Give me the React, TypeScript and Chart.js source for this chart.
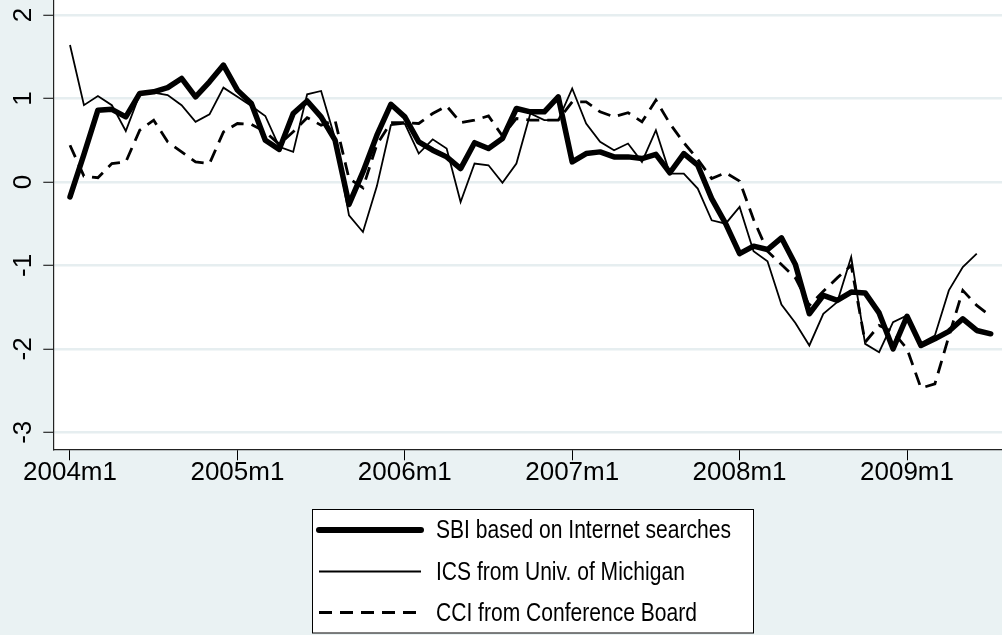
import React, { useEffect, useRef } from "react";
import { Chart, registerables } from "chart.js";

Chart.register(...registerables);

// Months are counted from 2004m1 (index 0) to 2009m7 (index 66)
const seriesNames = [
  "SBI based on Internet searches",
  "ICS from Univ. of Michigan",
  "CCI from Conference Board",
];

const sbi = [
  -0.18, 0.33, 0.86, 0.87, 0.78, 1.06, 1.08, 1.13, 1.24, 1.02, 1.2, 1.4,
  1.1, 0.94, 0.5, 0.39, 0.82, 0.97, 0.78, 0.5, -0.27, 0.12, 0.56, 0.93,
  0.78, 0.48, 0.38, 0.3, 0.16, 0.47, 0.4, 0.52, 0.88, 0.84, 0.84, 1.02,
  0.24, 0.34, 0.36, 0.3, 0.3, 0.28, 0.33, 0.11, 0.34, 0.2, -0.2, -0.5,
  -0.86, -0.77, -0.81, -0.67, -0.99, -1.58, -1.36, -1.42, -1.32, -1.33, -1.57, -2.0,
  -1.61, -1.96, -1.88, -1.79, -1.64, -1.78, -1.82,
];

const ics = [
  1.64, 0.92, 1.03, 0.92, 0.61, 1.05, 1.07, 1.04, 0.92, 0.72, 0.81, 1.13,
  1.02, 0.91, 0.79, 0.42, 0.36, 1.05, 1.09, 0.52, -0.4, -0.6, -0.05, 0.68,
  0.7, 0.34, 0.51, 0.4, -0.24, 0.22, 0.2, -0.01, 0.22, 0.82, 0.74, 0.74,
  1.12, 0.7, 0.48, 0.38, 0.46, 0.24, 0.62, 0.1, 0.1, -0.08, -0.46, -0.5,
  -0.3, -0.83, -0.95, -1.47, -1.69, -1.96, -1.58, -1.44, -0.9, -1.94, -2.04, -1.68,
  -1.6, -1.93, -1.84, -1.3, -1.02, -0.86,
];

const cci = [
  0.44, 0.07, 0.05, 0.22, 0.24, 0.62, 0.74, 0.48, 0.36, 0.24, 0.22, 0.6,
  0.7, 0.69, 0.6, 0.45, 0.6, 0.77, 0.68, 0.74, 0.04, -0.07, 0.45, 0.71,
  0.71, 0.7, 0.82, 0.91, 0.71, 0.74, 0.79, 0.55, 0.76, 0.74, 0.74, 0.74,
  0.96, 0.96, 0.84, 0.78, 0.83, 0.72, 0.98, 0.7, 0.47, 0.27, 0.04, 0.11,
  0.01, -0.45, -0.83, -0.99, -1.15, -1.48, -1.31, -1.15, -1.0, -1.92, -1.72, -1.8,
  -2.0, -2.47, -2.42, -1.85, -1.3, -1.48, -1.61,
];

const xTickMonths = [0, 12, 24, 36, 48, 60];
const xTickLabels = ["2004m1", "2005m1", "2006m1", "2007m1", "2008m1", "2009m1"];
const yTickValues = [-3, -2, -1, 0, 1, 2];

const BG = "#EAF2F3";
const W = 1002;
const H = 635;

const bgPlugin = {
  id: "stataBg",
  beforeDraw(chart: any) {
    const { ctx, chartArea } = chart;
    ctx.save();
    ctx.fillStyle = BG;
    ctx.fillRect(0, 0, chart.width, chart.height);
    ctx.fillStyle = "#ffffff";
    ctx.fillRect(
      chartArea.left,
      chartArea.top,
      chartArea.right - chartArea.left,
      chartArea.bottom - chartArea.top
    );
    ctx.restore();
  },
};

const legendPlugin = {
  id: "stataLegend",
  afterDraw(chart: any) {
    const ctx = chart.ctx as CanvasRenderingContext2D;
    const box = { x: 312.5, y: 509.5, w: 441, h: 123.5 };
    ctx.save();
    ctx.fillStyle = "#ffffff";
    ctx.fillRect(box.x, box.y, box.w, box.h);
    ctx.strokeStyle = "#000000";
    ctx.lineWidth = 1;
    ctx.strokeRect(box.x, box.y, box.w, box.h);

    const rows = [530, 571.5, 612.5];
    const lx0 = 319;
    const lx1 = 421;
    const tx = 436;
    ctx.font = '26px "Liberation Sans", Arial, sans-serif';
    const refW = ctx.measureText(seriesNames[0]).width;
    const sx = 295 / refW;
    chart.data.datasets.forEach((ds: any, i: number) => {
      const y = rows[i];
      ctx.beginPath();
      ctx.strokeStyle = "#000000";
      ctx.lineWidth = ds.legendWidth;
      ctx.lineCap = i === 0 ? "round" : "butt";
      ctx.setLineDash(ds.borderDash || []);
      ctx.moveTo(lx0, y);
      ctx.lineTo(lx1, y);
      ctx.stroke();
      ctx.setLineDash([]);
      ctx.save();
      ctx.translate(tx, y);
      ctx.scale(sx, 1);
      ctx.fillStyle = "#000000";
      ctx.textBaseline = "middle";
      ctx.textAlign = "left";
      ctx.fillText(ds.label, 0, 1);
      ctx.restore();
    });
    ctx.restore();
  },
};

const zeroPad = (s: any) => {
  s.paddingTop = 0;
  s.paddingBottom = 0;
  s.paddingLeft = 0;
  s.paddingRight = 0;
};

export default function App() {
  const ref = useRef<HTMLCanvasElement | null>(null);

  useEffect(() => {
    document.body.style.margin = "0";
    const canvas = ref.current;
    if (!canvas) return;
    const toPts = (arr: number[]) => arr.map((v, i) => ({ x: i, y: v }));
    const chart = new Chart(canvas, {
      type: "line",
      data: {
        datasets: [
          {
            label: seriesNames[0],
            data: toPts(sbi),
            borderColor: "#000000",
            borderWidth: 5.5,
            borderJoinStyle: "round",
            borderCapStyle: "round",
            pointRadius: 0,
            tension: 0,
            order: 2,
            legendWidth: 6,
          } as any,
          {
            label: seriesNames[1],
            data: toPts(ics),
            borderColor: "#000000",
            borderWidth: 1.8,
            borderJoinStyle: "miter",
            pointRadius: 0,
            tension: 0,
            order: 1,
            legendWidth: 2,
          } as any,
          {
            label: seriesNames[2],
            data: toPts(cci),
            borderColor: "#000000",
            borderWidth: 2.8,
            borderDash: [13, 8],
            pointRadius: 0,
            tension: 0,
            order: 0,
            legendWidth: 3,
          } as any,
        ],
      },
      options: {
        responsive: false,
        animation: false,
        devicePixelRatio: 1,
        layout: { padding: 0 },
        plugins: {
          legend: { display: false },
          tooltip: { enabled: false },
        },
        scales: {
          x: {
            type: "linear",
            min: -1.197,
            max: 66.81,
            afterFit: (s: any) => {
              s.height = H - 449.3;
              zeroPad(s);
            },
            afterBuildTicks: (s: any) => {
              s.ticks = xTickMonths.map((v) => ({ value: v }));
            },
            ticks: {
              autoSkip: false,
              maxRotation: 0,
              minRotation: 0,
              padding: -3,
              color: "#000000",
              font: { family: '"Liberation Sans", Arial, sans-serif', size: 26 },
              callback: (v: any) => {
                const k = xTickMonths.indexOf(Number(v));
                return k >= 0 ? xTickLabels[k] : "";
              },
            },
            grid: {
              drawOnChartArea: false,
              drawTicks: true,
              tickLength: 11,
              tickColor: "#000000",
              tickWidth: 1,
            },
            border: { display: true, color: "#222222", width: 1.2 },
          },
          y: {
            type: "linear",
            min: -3.204,
            max: 2.18,
            afterFit: (s: any) => {
              s.width = 53.3;
              zeroPad(s);
            },
            afterBuildTicks: (s: any) => {
              s.ticks = yTickValues.map((v) => ({ value: v }));
            },
            ticks: {
              autoSkip: false,
              minRotation: 90,
              maxRotation: 90,
              crossAlign: "center",
              padding: 8.4,
              color: "#000000",
              font: { family: '"Liberation Sans", Arial, sans-serif', size: 26 },
              callback: (v: any) => String(v),
            },
            grid: {
              drawOnChartArea: true,
              color: "#E6EEF0",
              lineWidth: 2.5,
              drawTicks: true,
              tickLength: 10,
              tickColor: "#000000",
              tickWidth: 1,
            },
            border: { display: true, color: "#222222", width: 1.2 },
          },
        },
      },
      plugins: [bgPlugin, legendPlugin],
    } as any);
    return () => chart.destroy();
  }, []);

  return (
    <div style={{ position: "absolute", left: 0, top: 0, width: W, height: H }}>
      <canvas ref={ref} width={W} height={H} style={{ display: "block", width: W, height: H }} />
    </div>
  );
}
